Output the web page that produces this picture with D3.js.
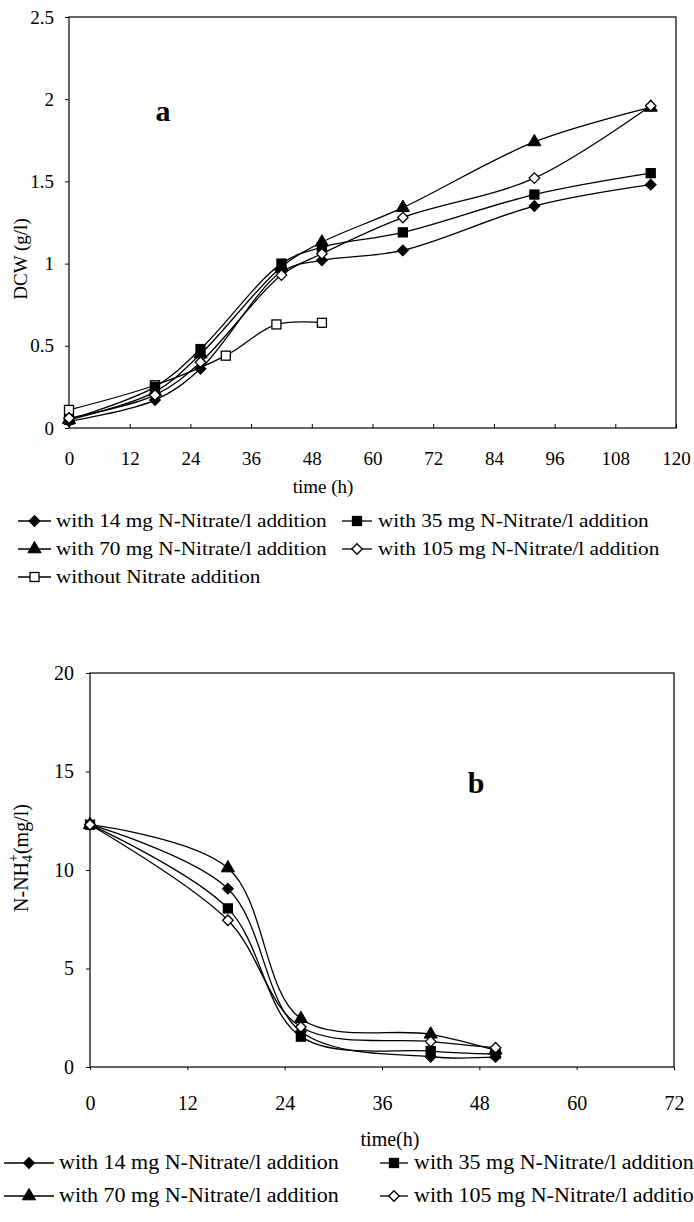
<!DOCTYPE html>
<html>
<head>
<meta charset="utf-8">
<script src="https://cdn.jsdelivr.net/npm/d3@7"></script>
<style>
  body { margin: 0; background: #fff; }
  svg { display: block; }
  svg text { font-family: "Liberation Serif", "Times New Roman", "DejaVu Serif", serif; fill: #000; }
</style>
</head>
<body>
<svg id="chart" width="694" height="1222"></svg>
<script>
// ---- panel a : DCW (g/l) vs time ----
const timeA = [0, 17, 26, 42, 50, 66, 92, 115];
const dcw14 = [0.04, 0.17, 0.36, 0.95, 1.02, 1.08, 1.35, 1.48];
const dcw35 = [0.05, 0.25, 0.48, 1.00, 1.10, 1.19, 1.42, 1.55];
const dcw70 = [0.05, 0.22, 0.45, 0.98, 1.13, 1.34, 1.74, 1.95];
const dcw105 = [0.06, 0.20, 0.40, 0.93, 1.06, 1.28, 1.52, 1.96];
const timeCtrl = [0, 17, 31, 41, 50];
const dcwCtrl = [0.11, 0.26, 0.44, 0.63, 0.64];
const ticksA_x = [0, 12, 24, 36, 48, 60, 72, 84, 96, 108, 120];
const ticksA_y = [0, 0.5, 1, 1.5, 2, 2.5];

// ---- panel b : N-NH4+ (mg/l) vs time ----
const timeB = [0, 17, 26, 42, 50];
const nh14 = [12.3, 9.05, 1.8, 0.52, 0.51];
const nh35 = [12.3, 8.05, 1.54, 0.81, 0.66];
const nh70 = [12.3, 10.1, 2.45, 1.66, 0.85];
const nh105 = [12.3, 7.45, 2.03, 1.29, 0.98];
const ticksB_x = [0, 12, 24, 36, 48, 60, 72];
const ticksB_y = [0, 5, 10, 15, 20];

const labels = {
  n14: "with 14 mg N-Nitrate/l addition",
  n35: "with 35 mg N-Nitrate/l addition",
  n70: "with 70 mg N-Nitrate/l addition",
  n105: "with 105 mg N-Nitrate/l addition",
  ctrl: "without Nitrate addition"
};

const FONT = "Liberation Serif, Times New Roman, DejaVu Serif, serif";
const svg = d3.select("#chart");

// marker drawing: filled diamond, filled square, filled triangle, open diamond, open square
function marker(g, kind, x, y) {
  if (kind === "diamond" || kind === "odiamond") {
    g.append("path")
      .attr("d", d3.symbol(d3.symbolDiamond2, 70)())
      .attr("transform", `translate(${x},${y})`)
      .attr("fill", kind === "diamond" ? "#000" : "#fff")
      .attr("stroke", "#000").attr("stroke-width", 1.3);
  } else if (kind === "square" || kind === "osquare") {
    g.append("rect")
      .attr("x", x - 4.5).attr("y", y - 4.5)
      .attr("width", 9).attr("height", 9)
      .attr("fill", kind === "square" ? "#000" : "#fff")
      .attr("stroke", "#000").attr("stroke-width", 1.3);
  } else if (kind === "triangle") {
    g.append("path")
      .attr("d", d3.symbol(d3.symbolTriangle, 75)())
      .attr("transform", `translate(${x},${y})`)
      .attr("fill", "#000").attr("stroke", "#000");
  }
}

function drawPanel(cfg) {
  const x = d3.scaleLinear().domain(cfg.xDomain).range([cfg.left, cfg.right]);
  const y = d3.scaleLinear().domain(cfg.yDomain).range([cfg.bottom, cfg.top]);
  const g = svg.append("g");

  // frame
  g.append("rect")
    .attr("x", cfg.left).attr("y", cfg.top)
    .attr("width", cfg.right - cfg.left).attr("height", cfg.bottom - cfg.top)
    .attr("fill", "none").attr("stroke", "#000").attr("stroke-width", 1.2);

  // axes
  const xAxis = g.append("g")
    .attr("transform", `translate(0,${cfg.bottom})`)
    .call(d3.axisBottom(x).tickValues(cfg.xTicks).tickSize(cfg.xTickSize).tickPadding(cfg.xPad));
  const yAxis = g.append("g")
    .attr("transform", `translate(${cfg.left},0)`)
    .call(d3.axisLeft(y).tickValues(cfg.yTicks).tickSize(4).tickPadding(cfg.yPad)
      .tickFormat(d => String(d)));
  [xAxis, yAxis].forEach(a => {
    a.attr("font-family", FONT);
    a.select(".domain").remove();
    a.selectAll("text").attr("font-family", FONT).attr("font-size", cfg.tickFont).attr("fill", "#000");
    a.selectAll("line").attr("stroke", "#000");
  });

  const line = d3.line()
    .x(d => x(d[0])).y(d => y(d[1]))
    .curve(d3.curveCatmullRom.alpha(0.5));

  cfg.series.forEach(s => {
    const pts = s.t.map((t, i) => [t, s.v[i]]);
    g.append("path").datum(pts)
      .attr("d", line)
      .attr("fill", "none").attr("stroke", "#000").attr("stroke-width", 1.3);
  });
  cfg.series.forEach(s => {
    s.t.forEach((t, i) => marker(g, s.kind, x(t), y(s.v[i])));
  });
  return g;
}

// panel a
drawPanel({
  xDomain: [0, 120], yDomain: [0, 2.5],
  left: 69, right: 676, top: 17, bottom: 428,
  xTicks: ticksA_x, yTicks: ticksA_y,
  xTickSize: -4, xPad: 24, yPad: 11, tickFont: 19,
  series: [
    { t: timeCtrl, v: dcwCtrl, kind: "osquare" },
    { t: timeA, v: dcw14, kind: "diamond" },
    { t: timeA, v: dcw35, kind: "square" },
    { t: timeA, v: dcw70, kind: "triangle" },
    { t: timeA, v: dcw105, kind: "odiamond" }
  ]
});

svg.append("text").attr("x", 163).attr("y", 121).attr("font-family", FONT)
  .attr("text-anchor", "middle").attr("font-size", 30).attr("font-weight", "bold").text("a");
svg.append("text").attr("transform", "translate(27,259) rotate(-90)").attr("font-family", FONT)
  .attr("text-anchor", "middle").attr("font-size", 19).text("DCW (g/l)");
svg.append("text").attr("x", 323).attr("y", 493).attr("font-family", FONT)
  .attr("text-anchor", "middle").attr("font-size", 19).text("time (h)");

// panel b
drawPanel({
  xDomain: [0, 72], yDomain: [0, 20],
  left: 90, right: 674, top: 673, bottom: 1067,
  xTicks: ticksB_x, yTicks: ticksB_y,
  xTickSize: 3, xPad: 26, yPad: 12, tickFont: 20,
  series: [
    { t: timeB, v: nh14, kind: "diamond" },
    { t: timeB, v: nh35, kind: "square" },
    { t: timeB, v: nh70, kind: "triangle" },
    { t: timeB, v: nh105, kind: "odiamond" }
  ]
});

svg.append("text").attr("x", 476).attr("y", 793).attr("font-family", FONT)
  .attr("text-anchor", "middle").attr("font-size", 30).attr("font-weight", "bold").text("b");
const yb = svg.append("text").attr("transform", "translate(28,858) rotate(-90)")
  .attr("font-family", FONT).attr("text-anchor", "middle").attr("font-size", 20);
yb.append("tspan").text("N-NH");
yb.append("tspan").attr("font-size", 14).attr("dy", 4).text("4");
yb.append("tspan").attr("font-size", 14).attr("dy", -14).attr("dx", -7).text("+");
yb.append("tspan").attr("dy", 10).text("(mg/l)");
svg.append("text").attr("x", 390).attr("y", 1146).attr("font-family", FONT)
  .attr("text-anchor", "middle").attr("font-size", 20).text("time(h)");

// legends (scanned text is a bit wider than Times, so stretch it)
function legendItem(kind, label, x0, x1, tx, y, fs, stretch) {
  const g = svg.append("g");
  g.append("line").attr("x1", x0).attr("x2", x1).attr("y1", y).attr("y2", y)
    .attr("stroke", "#000").attr("stroke-width", 1.3);
  marker(g, kind, (x0 + x1) / 2, y);
  const t = g.append("text").attr("x", tx).attr("y", y + 6)
    .attr("font-family", FONT).attr("font-size", fs).text(label);
  const len = t.node().getComputedTextLength();
  t.attr("textLength", len * stretch).attr("lengthAdjust", "spacingAndGlyphs");
}

legendItem("diamond", labels.n14, 18, 51, 56, 521, 19, 1.12);
legendItem("square", labels.n35, 342, 372, 378, 521, 19, 1.12);
legendItem("triangle", labels.n70, 18, 51, 56, 549, 19, 1.12);
legendItem("odiamond", labels.n105, 342, 372, 378, 549, 19, 1.12);
legendItem("osquare", labels.ctrl, 18, 51, 56, 577, 19, 1.12);

legendItem("diamond", labels.n14, 4, 54, 59, 1163, 20, 1.1);
legendItem("square", labels.n35, 380, 408, 414, 1163, 20, 1.1);
legendItem("triangle", labels.n70, 4, 54, 59, 1196, 20, 1.1);
legendItem("odiamond", labels.n105, 380, 408, 414, 1196, 20, 1.1);
</script>
</body>
</html>
